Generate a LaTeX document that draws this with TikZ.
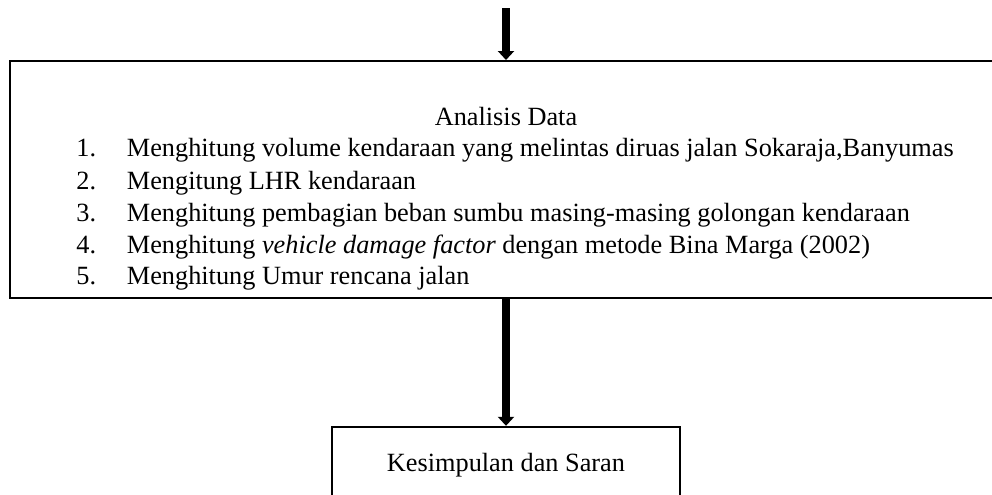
\documentclass[tikz,border=0pt]{standalone}
\usepackage{fontspec}
\setmainfont{Liberation Serif}
\usetikzlibrary{arrows.meta}
\begin{document}
\begin{tikzpicture}[x=0.5pt,y=-0.5pt,
  box/.style={draw, line width=1pt, inner sep=0pt},
  flow/.style={line width=3.8pt, -{Triangle[width=8pt,length=4.5pt]}},
  txt/.style={anchor=base west, inner sep=0pt, font=\fontsize{13.15pt}{15pt}\selectfont},
  ctxt/.style={anchor=base, inner sep=0pt, font=\fontsize{13.15pt}{15pt}\selectfont}]
\useasboundingbox (0,0) rectangle (992,494);
\clip (0,0) rectangle (992,494);
% boxes
\node[box, minimum width=496pt, minimum height=118.5pt] (analisis) at (506,179.5) {};
\node[box, line width=1.2pt, minimum width=174pt, minimum height=46.5pt] (kesimpulan) at (506,473.5) {};
% texts
\node[ctxt] (judul) at (506,125) {Analisis Data};
\node[txt] (n1) at (76,156) {1.};
\node[txt] (t1) at (126.5,156) {Menghitung volume kendaraan yang melintas diruas jalan Sokaraja,Banyumas};
\node[txt] (n2) at (76,189) {2.};
\node[txt] (t2) at (126.5,189) {Mengitung LHR kendaraan};
\node[txt] (n3) at (76,221.5) {3.};
\node[txt] (t3) at (126.5,221.5) {Menghitung pembagian beban sumbu masing-masing golongan kendaraan};
\node[txt] (n4) at (76,253) {4.};
\node[txt] (t4) at (126.5,253) {Menghitung \textit{vehicle damage factor} dengan metode Bina Marga (2002)};
\node[txt] (n5) at (76,284.5) {5.};
\node[txt] (t5) at (126.5,284.5) {Menghitung Umur rencana jalan};
\node[ctxt] (ks) at (506,471.7) {Kesimpulan dan Saran};
% arrows
\coordinate (start) at (506,8);
\draw[flow] (start) -- (analisis.north);
\draw[flow] (analisis.south) -- (kesimpulan.north);
\end{tikzpicture}
\end{document}
